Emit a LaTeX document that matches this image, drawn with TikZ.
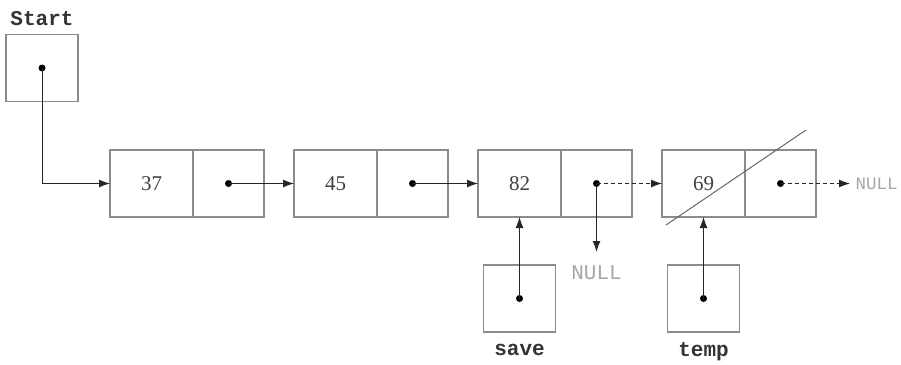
\documentclass[tikz,border=0pt]{standalone}
\usepackage{fontspec}
\setmainfont{Liberation Serif}
\setmonofont{Liberation Mono}
\usepackage{tikz}
\usetikzlibrary{arrows.meta,positioning}

\begin{document}
\begin{tikzpicture}[
    x=1pt, y=1pt,
    datacell/.style={rectangle, draw=black!45, line width=1.3pt, outer sep=0pt, minimum width=83pt, minimum height=67pt, inner sep=0pt, font=\fontsize{21}{23}\selectfont, text=black!75},
    ptrcell/.style={rectangle, draw=black!45, line width=1.3pt, outer sep=0pt, minimum width=71pt, minimum height=67pt, inner sep=0pt},
    varbox/.style={rectangle, draw=black!45, line width=1.3pt, outer sep=0pt, minimum width=72pt, minimum height=67pt, inner sep=0pt},
    varname/.style={font=\ttfamily\bfseries\fontsize{21}{23}\selectfont, text=black!80},
    nulltxt/.style={font=\ttfamily\fontsize{21}{23}\selectfont, text=black!35},
    dot/.style={circle, fill=black, inner sep=0pt, minimum size=7pt},
    link/.style={-{Latex[length=11pt,width=8pt]}, line width=1pt, black!85},
    oldlink/.style={link, dashed, dash pattern=on 4pt off 3pt},
    cross/.style={line width=1pt, black!60}
]
\useasboundingbox (0,0) rectangle (901,-364);

% pointer variables
\node[varbox] (start) at (42,-68) {};
\node[varname, above=5pt of start] {Start};

% the list
\node[datacell] (d37) at (151.5,-183.5) {37};
\node[ptrcell, right=0pt of d37] (p37) {};
\node[datacell, right=30pt of p37] (d45) {45};
\node[ptrcell, right=0pt of d45] (p45) {};
\node[datacell, right=30pt of p45] (d82) {82};
\node[ptrcell, right=0pt of d82] (p82) {};
\node[datacell, right=30pt of p82] (d69) {69};
\node[ptrcell, right=0pt of d69] (p69) {};

\node[varbox, below=48pt of d82] (save) {};
\node[varname, below=9pt of save] {save};
\node[varbox, below=48pt of d69] (temp) {};
\node[varname, below=7pt of temp] {temp};

\coordinate (nullend) at (p82.center |- 0,-252);
\node[nulltxt, below=10pt of nullend] (null1) {NULL};
\node[nulltxt, anchor=west, font=\ttfamily\fontsize{17.5}{20}\selectfont] (null2) at (852,-183.5) {NULL};

% dots
\foreach \n in {start,p37,p45,p82,p69,save,temp}
    \node[dot] at (\n.center) {};

% links
\draw[link] (start.center) |- (d37.west);
\draw[link] (p37.center) -- (d45.west);
\draw[link] (p45.center) -- (d82.west);
\draw[oldlink] (p82.center) -- (d69.west);
\draw[link] (p82.center) -- (nullend);
\draw[oldlink] (p69.center) -- ([xshift=-2pt]null2.west);
\draw[link] (save.center) -- (save.center |- d82.south);
\draw[link] (temp.center) -- (temp.center |- d69.south);

% deleted node
\draw[cross] ([shift={(4pt,-8pt)}]d69.south west) -- ([shift={(-10pt,20pt)}]p69.north east);
\end{tikzpicture}
\end{document}
